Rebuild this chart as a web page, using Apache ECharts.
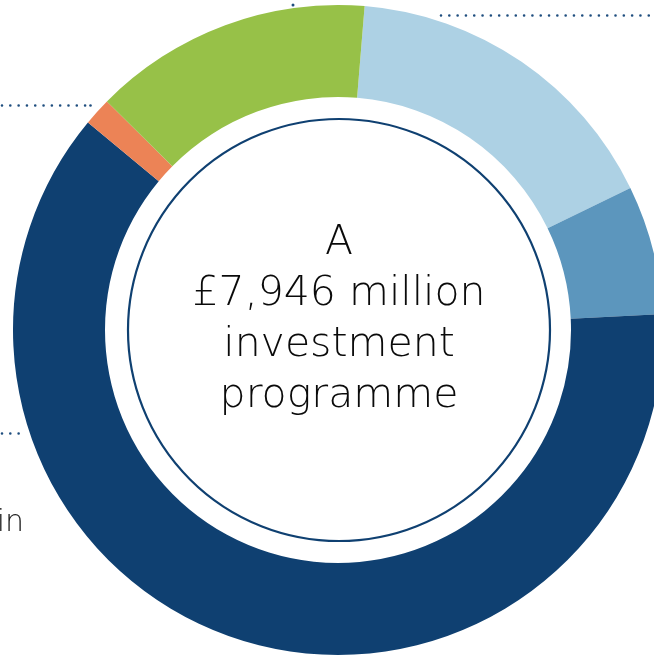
<!DOCTYPE html>
<html>
<head>
<meta charset="utf-8">
<script src="https://cdn.jsdelivr.net/npm/echarts@6/dist/echarts.min.js"></script>
<style>
html,body{margin:0;padding:0;background:#fff;}
#chart{width:654px;height:657px;}
</style>
</head>
<body>
<div id="chart"></div>
<script>
// Data (GBP million), clockwise from just right of 12 o'clock
const categories = ['Segment A', 'Segment B', 'Segment C', 'Segment D', 'Segment E'];
const values = [1311, 510, 4911, 110, 1104];
const colors = ['#ADD1E4', '#5C96BD', '#0F4071', '#EC8356', '#97C148'];
const centerLines = ['A', '£7,946 million', 'investment', 'programme'];
const sideText = 'in';

const chart = echarts.init(document.getElementById('chart'), null, {renderer: 'canvas'});
const cx = 338, cy = 330;
const dotStyle = {stroke: '#1F4E7F', lineWidth: 2.6, lineDash: [0.01, 8.3], lineCap: 'round'};

chart.setOption({
  animation: false,
  backgroundColor: '#ffffff',
  series: [{
    type: 'pie',
    center: [cx, cy],
    radius: [233, 325],
    startAngle: 85.3,
    clockwise: true,
    silent: true,
    label: {show: false},
    labelLine: {show: false},
    itemStyle: {borderWidth: 0},
    data: categories.map((c, i) => ({name: c, value: values[i], itemStyle: {color: colors[i]}}))
  }],
  graphic: [
    {type: 'circle', shape: {cx: cx + 1, cy: cy, r: 211}, style: {fill: '#fff', stroke: '#0F4071', lineWidth: 2.2}, z: 10},
    {type: 'text', x: cx + 1, y: 320, z: 11, style: {
      text: centerLines.join('\n'), fill: '#0a0a0a', font: '200 41px "DejaVu Sans"',
      lineHeight: 51, align: 'center', verticalAlign: 'middle'
    }},
    {type: 'line', shape: {x1: 441, y1: 15.5, x2: 660, y2: 15.5}, style: dotStyle, z: 5},
    {type: 'line', shape: {x1: 2, y1: 105.5, x2: 88, y2: 105.5}, style: dotStyle, z: 5},
    {type: 'circle', shape: {cx: 90.5, cy: 105.5, r: 1.3}, style: {fill: '#1F4E7F'}, z: 5},
    {type: 'line', shape: {x1: 2, y1: 433.5, x2: 26, y2: 433.5}, style: dotStyle, z: 5},
    {type: 'circle', shape: {cx: 293, cy: 5, r: 1.5}, style: {fill: '#1F4E7F'}, z: 5},
    {type: 'text', x: 24, y: 508, z: 5, style: {
      text: sideText, fill: '#222', font: '200 30px "DejaVu Sans"', align: 'right', verticalAlign: 'alphabetic'
    }}
  ]
});
</script>
</body>
</html>
